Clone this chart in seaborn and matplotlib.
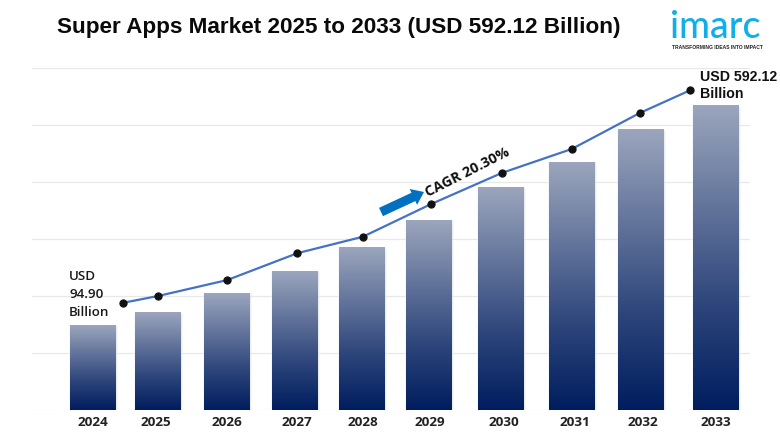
import numpy as np
import pandas as pd
import matplotlib
matplotlib.use("Agg")
import matplotlib.pyplot as plt
from matplotlib.colors import LinearSegmentedColormap
import seaborn as sns

years = ["2024", "2025", "2026", "2027", "2028", "2029", "2030", "2031", "2032", "2033"]
bar_slots = [2024.00, 2024.94, 2025.94, 2026.92, 2027.89, 2028.86, 2029.90, 2030.92, 2031.92, 2033.00]
bar_values = [149, 171, 205, 243, 285, 333, 391, 435, 492, 534]
line_slots = [2024.43, 2024.94, 2025.94, 2026.95, 2027.90, 2028.88, 2029.91, 2030.92, 2031.90, 2032.63]
line_values = [188, 200, 228, 275, 304, 361, 416, 458, 521, 561]
grid_ticks = [0, 100, 200, 300, 400, 500, 600]

sns.set_theme(style="white")
plt.rcParams["font.family"] = ["Liberation Sans", "DejaVu Sans"]

W, H = 780, 440
fig = plt.figure(figsize=(W / 100, H / 100), dpi=100, facecolor="white")
ax = fig.add_axes([32 / W, 1 - 410 / H, 718 / W, 342 / H])

bars_df = pd.DataFrame({"slot": bar_slots, "value": bar_values})
sns.barplot(data=bars_df, x="slot", y="value", native_scale=True, ax=ax,
            color="#1f3a75", width=0.66, zorder=2, errorbar=None)
ax.set_xlim(2023.118, 2033.494)
ax.set_ylim(0, 600)

cmap = LinearSegmentedColormap.from_list("bar", ["#9ba6bd", "#63749b", "#2c447a", "#001d5e"])
grad = np.linspace(0, 1, 256).reshape(-1, 1)
for patch in list(ax.patches):
    x0, w, h = patch.get_x(), patch.get_width(), patch.get_height()
    patch.set_width(46 / 69.2)
    patch.set_x(x0 + w / 2 - 23 / 69.2)
    patch.set_facecolor("none")
    patch.set_edgecolor("none")
    ax.bar(x0 + w / 2, h, width=48 / 69.2, color="#c4c7ce", alpha=0.35, zorder=1.5)
    ax.imshow(grad, extent=(x0 + w / 2 - 23 / 69.2, x0 + w / 2 + 23 / 69.2, 0, h),
              cmap=cmap, aspect="auto", zorder=2, interpolation="bilinear")
ax.set_xlim(2023.118, 2033.494)
ax.set_ylim(0, 600)

ax.set_yticks(grid_ticks)
ax.set_yticklabels([])
ax.set_xticks([])
ax.set_xlabel("")
ax.set_ylabel("")
for v in grid_ticks:
    ax.axhline(v, color="#e8e8e8", lw=0.9, zorder=1)
for s in ax.spines.values():
    s.set_visible(False)

line_df = pd.DataFrame({"slot": line_slots, "value": line_values})
sns.lineplot(data=line_df, x="slot", y="value", ax=ax, color="#4472c4", lw=1.6,
             marker="o", markersize=5.2, markerfacecolor="#111111",
             markeredgecolor="#111111", zorder=4, errorbar=None)
ax.set_xlabel("")
ax.set_ylabel("")


def fx(px):
    return px / W


def fy(py):
    return 1 - py / H


label_x = [93, 156, 227, 297, 363, 430, 504, 575, 643, 716]
for lx, yr in zip(label_x, years):
    fig.text(fx(lx), fy(422), yr, ha="center", va="center", fontsize=9.7,
             fontweight="bold", color="#222222", family=["Open Sans", "DejaVu Sans"])

fig.text(fx(57), fy(28), "Super Apps Market 2025 to 2033 (USD 592.12 Billion)",
         ha="left", va="center", fontsize=16.2, fontweight="bold", color="#0a0a0a")

for txt, py in zip(["USD", "94.90", "Billion"], [277, 295, 313]):
    fig.text(fx(69), fy(py), txt, ha="left", va="center", fontsize=9.6, color="#1a1a1a",
             fontweight="semibold", family=["Open Sans", "DejaVu Sans"])

fig.text(fx(700), fy(77), "USD 592.12", ha="left", va="center", fontsize=10.2, color="#111111",
         fontweight="bold")
fig.text(fx(700), fy(94), "Billion", ha="left", va="center", fontsize=10.2, color="#111111",
         fontweight="bold")

fig.text(fx(467), fy(172), "CAGR 20.30%", ha="center", va="center", rotation=27,
         rotation_mode="anchor", fontsize=10.4, fontweight="bold", color="#111111",
         family=["Open Sans", "DejaVu Sans"])
ax.annotate("", xy=(424 / W, 1 - 192 / H), xytext=(381 / W, 1 - 212 / H),
            xycoords="figure fraction", textcoords="figure fraction",
            arrowprops=dict(arrowstyle="simple,head_length=0.7,head_width=1.05,tail_width=0.55",
                            color="#0070c0", lw=0, shrinkA=0, shrinkB=0), zorder=5)

fig.text(fx(670), fy(38.5), "imarc", ha="left", va="baseline", fontsize=27, color="#12aee8",
         family=["Lato", "DejaVu Sans"], fontweight="medium")
fig.text(fx(671.5), fy(47.5), "TRANSFORMING IDEAS INTO IMPACT", ha="left", va="center",
         fontsize=3.65, fontweight="bold", color="#222222")

fig.savefig("out.png", dpi=100, facecolor="white")
